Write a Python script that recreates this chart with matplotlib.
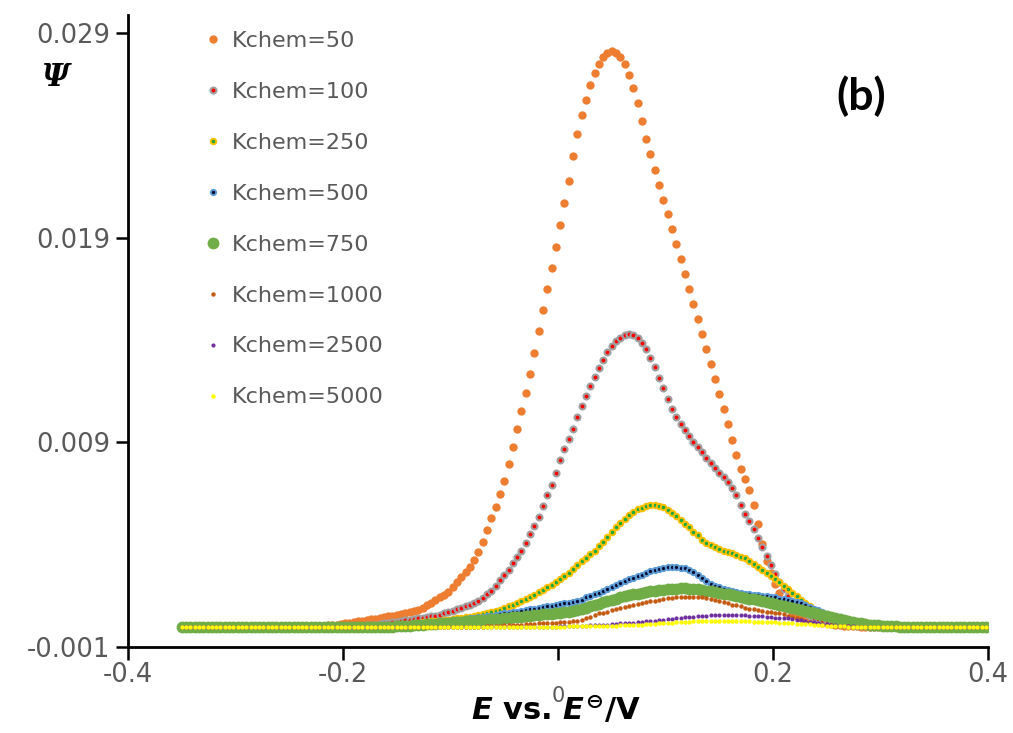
import numpy as np
import matplotlib
matplotlib.use("Agg")
import matplotlib.pyplot as plt

plt.rcParams["font.family"] = ["DejaVu Sans"]
plt.rcParams["axes.unicode_minus"] = False
plt.rcParams["mathtext.fontset"] = "custom"
plt.rcParams["mathtext.it"] = "DejaVu Sans:italic:bold"
plt.rcParams["mathtext.rm"] = "DejaVu Sans:bold"
plt.rcParams["mathtext.bf"] = "DejaVu Sans:bold"

# Potential sweep: one sample every 4 mV starting at -0.350 V
E_START = -0.35
E_STEP = 0.004

# Psi values in units of 1e-3
k50 = [
    0, 0, 0, 0, 0, 0, 0, 0, 0, 0,
    0, 0, 0, 0, 0, 0, 0, 0, 0, 0,
    0, 0, 0, 0, 0, 0, 0, 0.01, 0.02, 0.02,
    0.03, 0.04, 0.04, 0.05, 0.06, 0.07, 0.09, 0.11, 0.15, 0.19,
    0.22, 0.26, 0.29, 0.33, 0.36, 0.39, 0.43, 0.46, 0.50, 0.54,
    0.58, 0.61, 0.66, 0.69, 0.74, 0.82, 0.93, 1.05, 1.17, 1.30,
    1.44, 1.56, 1.71, 1.93, 2.17, 2.42, 2.66, 2.91, 3.25, 3.65,
    4.13, 4.71, 5.30, 5.84, 6.47, 7.11, 7.94, 8.77, 9.65, 10.53,
    11.41, 12.34, 13.36, 14.44, 15.46, 16.49, 17.51, 18.54, 19.62, 20.69,
    21.77, 22.99, 24.06, 24.99, 25.72, 26.46, 27.05, 27.48, 27.83, 28.02,
    28.12, 28.02, 27.83, 27.48, 26.95, 26.31, 25.58, 24.70, 23.82, 23.09,
    22.31, 21.57, 20.84, 20.16, 19.42, 18.69, 17.96, 17.22, 16.49, 15.76,
    15.02, 14.29, 13.56, 12.83, 12.09, 11.36, 10.63, 9.89, 9.11, 8.38,
    7.70, 7.21, 6.67, 5.94, 5.01, 4.03, 3.20, 2.61, 2.08, 1.64,
    1.25, 0.95, 0.71, 0.54, 0.44, 0.37, 0.30, 0.26, 0.22, 0.18,
    0.15, 0.12, 0.09, 0.07, 0.05, 0.03, 0.02, 0.01, 0, 0,
    0, 0, 0, 0, 0, 0, 0, 0, 0, 0,
    0, 0, 0, 0, 0, 0, 0, 0, 0, 0,
    0, 0, 0, 0, 0, 0, 0, 0,
]
k100 = [
    0, 0, 0, 0, 0, 0, 0, 0, 0, 0,
    0, 0, 0, 0, 0, 0, 0, 0, 0, 0,
    0, 0, 0, 0, 0, 0, 0, 0, 0, 0,
    0, 0, 0, 0, 0, 0, 0, 0, 0.01, 0.02,
    0.03, 0.04, 0.05, 0.07, 0.08, 0.10, 0.12, 0.15, 0.18, 0.21,
    0.24, 0.28, 0.31, 0.34, 0.37, 0.40, 0.43, 0.46, 0.50, 0.53,
    0.58, 0.64, 0.71, 0.78, 0.86, 0.93, 1.00, 1.07, 1.15, 1.25,
    1.39, 1.59, 1.76, 2.00, 2.27, 2.52, 2.78, 3.10, 3.40, 3.69,
    4.10, 4.50, 4.91, 5.35, 5.89, 6.42, 6.91, 7.50, 8.14, 8.67,
    9.16, 9.65, 10.24, 10.77, 11.26, 11.75, 12.19, 12.63, 13.02, 13.41,
    13.70, 13.95, 14.10, 14.24, 14.29, 14.24, 14.10, 13.85, 13.56, 13.12,
    12.68, 12.14, 11.65, 11.11, 10.63, 10.24, 9.90, 9.60, 9.31, 9.01,
    8.77, 8.53, 8.23, 7.99, 7.74, 7.50, 7.30, 7.06, 6.77, 6.42,
    5.94, 5.50, 5.15, 4.76, 4.32, 3.90, 3.45, 3.00, 2.55, 2.20,
    1.83, 1.49, 1.20, 1.00, 0.81, 0.66, 0.54, 0.44, 0.37, 0.32,
    0.27, 0.22, 0.17, 0.14, 0.11, 0.08, 0.06, 0.04, 0.02, 0.01,
    0, 0, 0, 0, 0, 0, 0, 0, 0, 0,
    0, 0, 0, 0, 0, 0, 0, 0, 0, 0,
    0, 0, 0, 0, 0, 0, 0, 0,
]
k250 = [
    0, 0, 0, 0, 0, 0, 0, 0, 0, 0,
    0, 0, 0, 0, 0, 0, 0, 0, 0, 0,
    0, 0, 0, 0, 0, 0, 0, 0, 0, 0,
    0, 0, 0, 0, 0, 0, 0, 0, 0, 0,
    0, 0, 0, 0, 0, 0.01, 0.02, 0.03, 0.05, 0.06,
    0.08, 0.10, 0.12, 0.14, 0.17, 0.19, 0.21, 0.23, 0.25, 0.27,
    0.29, 0.32, 0.34, 0.37, 0.40, 0.43, 0.45, 0.48, 0.51, 0.55,
    0.59, 0.64, 0.71, 0.76, 0.83, 0.90, 0.98, 1.05, 1.15, 1.25,
    1.34, 1.44, 1.56, 1.69, 1.81, 1.93, 2.05, 2.17, 2.32, 2.47,
    2.64, 2.81, 3.00, 3.18, 3.35, 3.54, 3.71, 3.93, 4.15, 4.37,
    4.62, 4.86, 5.06, 5.25, 5.45, 5.59, 5.74, 5.81, 5.89, 5.92,
    5.94, 5.91, 5.84, 5.69, 5.55, 5.40, 5.23, 5.03, 4.84, 4.64,
    4.45, 4.25, 4.10, 3.98, 3.88, 3.79, 3.71, 3.64, 3.57, 3.49,
    3.42, 3.35, 3.22, 3.08, 2.93, 2.78, 2.64, 2.49, 2.32, 2.17,
    2.00, 1.83, 1.66, 1.49, 1.32, 1.15, 0.98, 0.83, 0.71, 0.59,
    0.49, 0.41, 0.34, 0.28, 0.22, 0.17, 0.13, 0.10, 0.07, 0.05,
    0.03, 0.01, 0, 0, 0, 0, 0, 0, 0, 0,
    0, 0, 0, 0, 0, 0, 0, 0, 0, 0,
    0, 0, 0, 0, 0, 0, 0, 0,
]
k500 = [
    0, 0, 0, 0, 0, 0, 0, 0, 0, 0,
    0, 0, 0, 0, 0, 0, 0, 0, 0, 0,
    0, 0, 0, 0, 0, 0, 0, 0, 0, 0,
    0, 0, 0, 0, 0, 0, 0, 0, 0, 0,
    0, 0, 0, 0, 0, 0, 0, 0, 0, 0,
    0.01, 0.02, 0.04, 0.05, 0.07, 0.09, 0.11, 0.13, 0.16, 0.18,
    0.21, 0.22, 0.24, 0.27, 0.30, 0.34, 0.37, 0.40, 0.43, 0.45,
    0.48, 0.51, 0.54, 0.58, 0.61, 0.64, 0.67, 0.70, 0.73, 0.77,
    0.81, 0.84, 0.88, 0.91, 0.94, 0.98, 1.01, 1.05, 1.10, 1.14,
    1.17, 1.21, 1.26, 1.32, 1.42, 1.51, 1.59, 1.66, 1.73, 1.83,
    1.93, 2.03, 2.13, 2.21, 2.30, 2.38, 2.47, 2.54, 2.62, 2.70,
    2.77, 2.83, 2.87, 2.89, 2.91, 2.91, 2.88, 2.84, 2.76, 2.65,
    2.52, 2.37, 2.22, 2.10, 2.00, 1.91, 1.83, 1.77, 1.72, 1.67,
    1.64, 1.61, 1.58, 1.55, 1.53, 1.50, 1.48, 1.46, 1.42, 1.37,
    1.33, 1.28, 1.23, 1.19, 1.13, 1.05, 0.96, 0.88, 0.79, 0.71,
    0.63, 0.54, 0.46, 0.38, 0.31, 0.25, 0.20, 0.16, 0.11, 0.08,
    0.06, 0.03, 0.02, 0.01, 0, 0, 0, 0, 0, 0,
    0, 0, 0, 0, 0, 0, 0, 0, 0, 0,
    0, 0, 0, 0, 0, 0, 0, 0,
]
k750 = [
    0, 0, 0, 0, 0, 0, 0, 0, 0, 0,
    0, 0, 0, 0, 0, 0, 0, 0, 0, 0,
    0, 0, 0, 0, 0, 0, 0, 0, 0, 0,
    0, 0, 0, 0, 0, 0, 0, 0, 0, 0,
    0, 0, 0, 0, 0, 0, 0, 0, 0, 0,
    0.01, 0.02, 0.04, 0.05, 0.06, 0.08, 0.09, 0.11, 0.12, 0.14,
    0.15, 0.17, 0.18, 0.20, 0.22, 0.24, 0.25, 0.27, 0.29, 0.30,
    0.32, 0.34, 0.36, 0.38, 0.39, 0.42, 0.43, 0.45, 0.47, 0.49,
    0.51, 0.53, 0.55, 0.57, 0.59, 0.61, 0.63, 0.64, 0.66, 0.69,
    0.73, 0.76, 0.80, 0.84, 0.90, 0.98, 1.04, 1.11, 1.19, 1.26,
    1.31, 1.37, 1.43, 1.49, 1.53, 1.57, 1.61, 1.65, 1.69, 1.72,
    1.75, 1.78, 1.80, 1.82, 1.84, 1.85, 1.86, 1.86, 1.85, 1.84,
    1.83, 1.80, 1.76, 1.72, 1.69, 1.65, 1.61, 1.57, 1.53, 1.49,
    1.45, 1.41, 1.37, 1.33, 1.28, 1.24, 1.20, 1.15, 1.10, 1.05,
    1.00, 0.95, 0.90, 0.85, 0.80, 0.75, 0.70, 0.65, 0.60, 0.55,
    0.50, 0.45, 0.40, 0.35, 0.30, 0.25, 0.22, 0.19, 0.15, 0.12,
    0.10, 0.07, 0.06, 0.04, 0.03, 0.02, 0.01, 0, 0, 0,
    0, 0, 0, 0, 0, 0, 0, 0, 0, 0,
    0, 0, 0, 0, 0, 0, 0, 0,
]
k1000 = [
    0, 0, 0, 0, 0, 0, 0, 0, 0, 0,
    0, 0, 0, 0, 0, 0, 0, 0, 0, 0,
    0, 0, 0, 0, 0, 0, 0, 0, 0, 0,
    0, 0, 0, 0, 0, 0, 0, 0, 0, 0,
    0, 0, 0, 0, 0, 0, 0, 0, 0, 0,
    0, 0, 0, 0, 0, 0, 0, 0, 0, 0,
    0, 0, 0, 0, 0, 0, 0, 0, 0, 0,
    0, 0.01, 0.02, 0.03, 0.04, 0.06, 0.07, 0.08, 0.09, 0.10,
    0.12, 0.13, 0.14, 0.15, 0.16, 0.17, 0.18, 0.19, 0.20, 0.22,
    0.24, 0.27, 0.29, 0.34, 0.42, 0.49, 0.56, 0.64, 0.68, 0.73,
    0.79, 0.84, 0.89, 0.94, 0.99, 1.04, 1.09, 1.14, 1.19, 1.23,
    1.27, 1.31, 1.35, 1.38, 1.41, 1.43, 1.44, 1.44, 1.44, 1.44,
    1.43, 1.42, 1.39, 1.35, 1.30, 1.26, 1.20, 1.13, 1.07, 1.03,
    0.98, 0.93, 0.88, 0.84, 0.80, 0.76, 0.73, 0.70, 0.67, 0.64,
    0.59, 0.53, 0.47, 0.42, 0.35, 0.29, 0.23, 0.19, 0.14, 0.11,
    0.08, 0.06, 0.04, 0.03, 0.02, 0.01, 0, 0, 0, 0,
    0, 0, 0, 0, 0, 0, 0, 0, 0, 0,
    0, 0, 0, 0, 0, 0, 0, 0, 0, 0,
    0, 0, 0, 0, 0, 0, 0, 0,
]
k2500 = [
    0, 0, 0, 0, 0, 0, 0, 0, 0, 0,
    0, 0, 0, 0, 0, 0, 0, 0, 0, 0,
    0, 0, 0, 0, 0, 0, 0, 0, 0, 0,
    0, 0, 0, 0, 0, 0, 0, 0, 0, 0,
    0, 0, 0, 0, 0, 0, 0, 0, 0, 0,
    0, 0, 0, 0, 0, 0, 0, 0, 0, 0,
    0, 0, 0, 0, 0, 0, 0, 0, 0, 0,
    0, 0, 0, 0, 0, 0, 0, 0, 0, 0,
    0, 0, 0, 0, 0, 0, 0, 0, 0.01, 0.01,
    0.02, 0.03, 0.04, 0.04, 0.05, 0.06, 0.06, 0.07, 0.09, 0.10,
    0.12, 0.13, 0.15, 0.16, 0.17, 0.19, 0.21, 0.23, 0.25, 0.27,
    0.29, 0.31, 0.33, 0.35, 0.38, 0.40, 0.43, 0.45, 0.47, 0.49,
    0.51, 0.53, 0.54, 0.55, 0.55, 0.56, 0.56, 0.56, 0.56, 0.56,
    0.56, 0.55, 0.53, 0.52, 0.51, 0.50, 0.48, 0.46, 0.44, 0.43,
    0.42, 0.40, 0.39, 0.34, 0.30, 0.27, 0.23, 0.21, 0.17, 0.14,
    0.11, 0.09, 0.07, 0.05, 0.03, 0.02, 0.01, 0, 0, 0,
    0, 0, 0, 0, 0, 0, 0, 0, 0, 0,
    0, 0, 0, 0, 0, 0, 0, 0, 0, 0,
    0, 0, 0, 0, 0, 0, 0, 0,
]
k5000 = [
    0, 0, 0, 0, 0, 0, 0, 0, 0, 0,
    0, 0, 0, 0, 0, 0, 0, 0, 0, 0,
    0, 0, 0, 0, 0, 0, 0, 0, 0, 0,
    0, 0, 0, 0, 0, 0, 0, 0, 0, 0,
    0, 0, 0, 0, 0, 0, 0, 0, 0, 0,
    0, 0, 0, 0, 0, 0, 0, 0, 0, 0,
    0, 0, 0, 0, 0, 0, 0, 0, 0, 0,
    0, 0, 0, 0, 0, 0, 0, 0, 0, 0,
    0, 0, 0, 0, 0, 0, 0, 0, 0, 0,
    0.01, 0.01, 0.01, 0.01, 0.02, 0.02, 0.02, 0.02, 0.03, 0.04,
    0.05, 0.05, 0.06, 0.07, 0.07, 0.08, 0.09, 0.10, 0.11, 0.12,
    0.13, 0.15, 0.16, 0.18, 0.19, 0.21, 0.22, 0.23, 0.24, 0.25,
    0.26, 0.27, 0.28, 0.29, 0.29, 0.29, 0.29, 0.28, 0.28, 0.27,
    0.27, 0.26, 0.25, 0.24, 0.23, 0.22, 0.21, 0.21, 0.20, 0.19,
    0.18, 0.17, 0.16, 0.14, 0.13, 0.12, 0.11, 0.09, 0.08, 0.06,
    0.05, 0.04, 0.03, 0.02, 0.01, 0, 0, 0, 0, 0,
    0, 0, 0, 0, 0, 0, 0, 0, 0, 0,
    0, 0, 0, 0, 0, 0, 0, 0, 0, 0,
    0, 0, 0, 0, 0, 0, 0, 0,
]

series = [
    ("Kchem=50", k50),
    ("Kchem=100", k100),
    ("Kchem=250", k250),
    ("Kchem=500", k500),
    ("Kchem=750", k750),
    ("Kchem=1000", k1000),
    ("Kchem=2500", k2500),
    ("Kchem=5000", k5000),
]

x_ticks = [-0.4, -0.2, 0, 0.2, 0.4]
x_tick_labels = ["-0.4", "-0.2", "0", "0.2", "0.4"]
y_ticks = [-0.001, 0.009, 0.019, 0.029]
y_tick_labels = ["-0.001", "0.009", "0.019", "0.029"]

# marker styles: (face, edge, size, edge width)
styles = [
    ("#ED7D31", "#ED7D31", 6.0, 0.0),
    ("#FF0000", "#A0A0A0", 4.3, 1.5),
    ("#1FA83C", "#FFC000", 4.0, 1.4),
    ("#0B0B2E", "#5B9BD5", 3.8, 1.4),
    ("#70AD47", "#70AD47", 8.5, 0.0),
    ("#C55A11", "#C55A11", 3.2, 0.0),
    ("#7030A0", "#7030A0", 3.0, 0.0),
    ("#FFFF00", "#FFFF00", 3.2, 0.0),
]

TEXT_GREY = "#595959"

fig = plt.figure(figsize=(10.13, 7.33), dpi=100)
ax = fig.add_axes([0.1264, 0.1173, 0.8489, 0.8622])

handles = []
for (label, vals), (face, edge, ms, mew) in zip(series, styles):
    psi = np.array(vals) * 1e-3
    E = E_START + E_STEP * np.arange(len(psi))
    (h,) = ax.plot(E, psi, linestyle="none", marker="o", ms=ms,
                   mfc=face, mec=edge, mew=mew, label=label)
    handles.append(h)

ax.set_xlim(-0.4, 0.4)
ax.set_ylim(-0.001, 0.02988)
ax.set_xticks(x_ticks)
ax.set_xticklabels(x_tick_labels)
ax.set_yticks(y_ticks)
ax.set_yticklabels(y_tick_labels)
ax.tick_params(axis="both", direction="out", length=9, width=1.8,
               labelsize=18.5, labelcolor=TEXT_GREY, color="black")
ax.tick_params(axis="y", pad=4)
ax.tick_params(axis="x", pad=2)
for side in ("top", "right"):
    ax.spines[side].set_visible(False)
for side in ("left", "bottom"):
    ax.spines[side].set_linewidth(2)
    ax.spines[side].set_color("black")

# the "0" label sits lower and smaller, tucked into the axis title
zero_tick = ax.xaxis.get_major_ticks()[x_ticks.index(0)]
zero_tick.set_pad(19)
zero_tick.label1.set_fontsize(15)

leg = fig.legend(handles=handles, loc="upper left",
                 bbox_to_anchor=(0.2014, 0.9575), frameon=False,
                 fontsize=16, labelcolor=TEXT_GREY, borderpad=0,
                 handlelength=0.8, handletextpad=0.45, labelspacing=1.39,
                 borderaxespad=0)

fig.text(56 / 1013, 1 - 77 / 733, "\u03a8", fontsize=22,
         family="DejaVu Serif", style="italic", weight="bold",
         ha="center", va="center")
fig.text(861 / 1013, 1 - 96 / 733, "(b)", fontsize=32, family="Lato",
         weight="bold", ha="center", va="center")
fig.text(556 / 1013, 1 - 710 / 733, r"$E$ vs. $E^{\ominus}$/V",
         fontsize=22, weight="bold", ha="center", va="center")

fig.savefig("out.png", dpi=100)
